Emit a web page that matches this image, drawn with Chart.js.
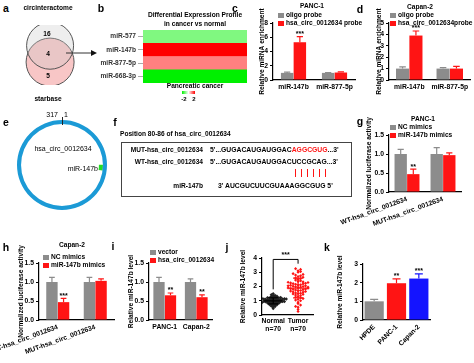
<!DOCTYPE html>
<html><head><meta charset="utf-8">
<script src="https://cdn.jsdelivr.net/npm/chart.js@4.4.1/dist/chart.umd.min.js"></script>
<style>
html,body{margin:0;padding:0;background:#fff;}
#fig{position:relative;width:474px;height:363px;overflow:hidden;font-family:'Liberation Sans',Arial,sans-serif;font-weight:bold;font-size:6.6px;color:#000;}
#fig canvas{position:absolute;}
.t{position:absolute;white-space:nowrap;line-height:1;color:#000;}
</style></head><body><div id="fig"></div>
<script>
// ---- data ----
const vennSets = ['circinteractome', 'starbase'];
const vennCounts = [16, 4, 5];            // only set 1, both, only set 2
const heatMirs = ['miR-577', 'miR-147b', 'miR-877-5p', 'miR-668-3p'];
const heatLogFC = [-1, 2, 1, -2];
const circLength = 317;
const siteStart = 80, siteEnd = 86;

const enrichMirs = ['miR-147b', 'miR-877-5p'];
const panc1Oligo = [1.0, 1.0], panc1OligoErr = [1.1, 1.05];
const panc1Circ = [5.3, 1.05], panc1CircErr = [6.1, 1.15];
const capanOligo = [1.0, 1.0], capanOligoErr = [1.15, 1.08];
const capanCirc = [3.9, 1.0], capanCircErr = [4.3, 1.2];

const lucGroups = ['WT-hsa_circ_0012634', 'MUT-hsa_circ_0012634'];
const panc1NC = [1.0, 1.0], panc1NCErr = [1.12, 1.17];
const panc1Mim = [0.47, 0.97], panc1MimErr = [0.6, 1.03];
const capanNC = [1.0, 1.0], capanNCErr = [1.12, 1.12];
const capanMim = [0.47, 1.03], capanMimErr = [0.57, 1.08];

const cellLines = ['PANC-1', 'Capan-2'];
const vectorLvl = [1.0, 1.0], vectorErr = [1.12, 1.08];
const circLvl = [0.65, 0.6], circErr = [0.71, 0.66];

const tissueGroups = ['Normal', 'Tumor'];
const normalLvl = [
  0.45, 0.55, 0.60, 0.65, 0.68, 0.70, 0.72, 0.74, 0.75, 0.77,
  0.78, 0.80, 0.81, 0.82, 0.84, 0.85, 0.86, 0.87, 0.88, 0.90,
  0.90, 0.91, 0.92, 0.93, 0.94, 0.95, 0.95, 0.96, 0.97, 0.98,
  0.99, 1.00, 1.00, 1.01, 1.02, 1.03, 1.04, 1.05, 1.05, 1.06,
  1.07, 1.08, 1.09, 1.10, 1.10, 1.11, 1.12, 1.13, 1.14, 1.15,
  1.16, 1.17, 1.18, 1.19, 1.20, 1.21, 1.22, 1.23, 1.25, 1.28,
  1.30, 1.32, 1.35, 1.38, 1.42, 0.62, 0.88, 1.00, 1.12, 1.50];
const tumorLvl = [
  0.25, 0.40, 0.55, 0.70, 0.80, 0.90, 1.00, 1.05, 1.10, 1.20,
  1.25, 1.30, 1.35, 1.40, 1.45, 1.50, 1.52, 1.55, 1.60, 1.62,
  1.65, 1.68, 1.70, 1.72, 1.75, 1.78, 1.80, 1.82, 1.85, 1.88,
  1.90, 1.92, 1.95, 1.98, 2.00, 2.02, 2.05, 2.08, 2.10, 2.12,
  2.15, 2.18, 2.20, 2.22, 2.25, 2.28, 2.30, 2.35, 2.40, 2.45,
  2.50, 2.55, 2.60, 2.65, 2.70, 2.75, 2.80, 2.85, 2.90, 3.00,
  3.05, 3.10, 3.20, 3.25, 1.15, 1.48, 1.95, 2.05, 2.32, 0.60];

const kLines = ['HPDE', 'PANC-1', 'Capan-2'];
const kLvl = [1.0, 1.97, 2.22], kErr = [1.1, 2.2, 2.47];

const mutSeq = ["5'...GUGACAUGAUGGAC", 'AGGCGUG', "...3'"];
const wtSeq = "5'...GUGACAUGAUGGACUCCGCAG...3'";
const mirSeq = "3' AUCGUCUUCGUAAAGGCGUG 5'";

// ---- setup ----
const GREY = '#8c8c8c', RED = '#ff1414', BLUE = '#1414ff';
const FONT = "'Liberation Sans', Arial, sans-serif";
Chart.defaults.font.family = FONT;
Chart.defaults.font.size = 6.8;
Chart.defaults.font.weight = 'bold';
Chart.defaults.color = '#000';
Chart.defaults.plugins.legend.display = false;
Chart.defaults.plugins.tooltip.enabled = false;

const fig = document.getElementById('fig');

function txt(x, y, s, o = {}) {
  const d = document.createElement('div');
  d.className = 't';
  if (o.html) d.innerHTML = s; else d.textContent = s;
  const a = o.a || 'c';
  d.style.left = x + 'px';
  d.style.top = y + 'px';
  d.style.transform = 'translate(' + (a === 'c' ? '-50%' : a === 'r' ? '-100%' : '0') + ',-50%)';
  if (o.size) d.style.fontSize = o.size + 'px';
  if (o.color) d.style.color = o.color;
  if (o.normal) d.style.fontWeight = 'normal';
  fig.appendChild(d);
  return d;
}
function rect(x, y, w, h, css) {
  const d = document.createElement('div');
  d.style.position = 'absolute';
  d.style.left = x + 'px'; d.style.top = y + 'px';
  d.style.width = w + 'px'; d.style.height = h + 'px';
  Object.assign(d.style, css);
  fig.appendChild(d);
  return d;
}
function letter(x, y, s) { txt(x, y, s, { size: 10.5 }); }
function legend(x, y, items) {
  items.forEach((it, i) => {
    rect(x, y + i * 8 - 2.5, 6, 5, { background: it[1] });
    txt(x + 8, y + i * 8, it[0], { a: 'l' });
  });
}
function canvasAt(left, top, w, h) {
  const c = document.createElement('canvas');
  c.width = w; c.height = h;
  Object.assign(c.style, { left: left + 'px', top: top + 'px', width: w + 'px', height: h + 'px' });
  fig.appendChild(c);
  return c;
}

// error bars + stars drawn through the y scale
const errPlugin = {
  id: 'errStars',
  afterDatasetsDraw(chart) {
    const ctx = chart.ctx, y = chart.scales.y;
    chart.data.datasets.forEach((ds, di) => {
      if (!ds.err) return;
      chart.getDatasetMeta(di).data.forEach((bar, i) => {
        const top = y.getPixelForValue(ds.err[i]);
        const col = Array.isArray(ds.backgroundColor) ? ds.backgroundColor[i] : ds.backgroundColor;
        const cw = Math.min(bar.width * 0.5, 8);
        ctx.save();
        ctx.strokeStyle = col; ctx.lineWidth = 1.2;
        ctx.beginPath();
        ctx.moveTo(bar.x, bar.y); ctx.lineTo(bar.x, top);
        ctx.moveTo(bar.x - cw / 2, top); ctx.lineTo(bar.x + cw / 2, top);
        ctx.stroke();
        if (ds.stars && ds.stars[i]) {
          ctx.fillStyle = '#000';
          ctx.font = 'bold 7px ' + FONT;
          ctx.textAlign = 'center'; ctx.textBaseline = 'bottom';
          ctx.fillText(ds.stars[i], bar.x, top + 1);
        }
        ctx.restore();
      });
    });
  }
};

// place a chart so that its plot area lands on box.l..box.r, box.t..box.b
function panel(box, cfg) {
  const pl = box.pl ?? 4, pt = box.pt ?? 20, pr = box.pr ?? 4, pb = box.pb ?? 4;
  const yW = Math.round(box.l - box.tx + 4);
  const left = box.l - pl - yW, top = box.t - pt;
  const c = canvasAt(left, top, box.r + pr - left, box.b + box.xH + pb - top);
  Object.assign(cfg.options, { responsive: false, animation: false, devicePixelRatio: 1,
    layout: { padding: { left: pl, top: pt, right: pr, bottom: pb } } });
  cfg.options.scales.x.afterFit = s => { s.height = box.xH; s.paddingLeft = 0; s.paddingRight = 0; };
  cfg.options.scales.y.afterFit = s => { s.width = yW; s.paddingTop = 0; s.paddingBottom = 0; };
  return new Chart(c, cfg);
}
function yScale(max, step, title, dec) {
  return { min: 0, max: max,
    ticks: { stepSize: step, padding: 2, callback: v => dec ? v.toFixed(1) : v },
    grid: { drawOnChartArea: false, tickLength: 3, color: '#000', lineWidth: 1 },
    border: { color: '#000', width: 1.2 },
    title: { display: true, text: title, padding: 0, font: { size: 6.6, weight: 'bold' } } };
}
function xCat(rot) {
  return { grid: { display: false, drawTicks: false }, border: { color: '#000', width: 1.2 },
    ticks: { padding: 3, autoSkip: false, minRotation: rot || 0, maxRotation: rot || 0 } };
}
function bars(label, data, err, color, stars, cp) {
  return { label, data, err, stars, backgroundColor: color, borderWidth: 0,
    barPercentage: 0.98, categoryPercentage: cp };
}
function barChart(box, labels, sets, y, rot) {
  return panel(box, { type: 'bar', data: { labels, datasets: sets },
    options: { scales: { x: xCat(rot), y } }, plugins: [errPlugin] });
}

// ---- a: venn ----
letter(6, 8, 'a');
new Chart(canvasAt(0, 0, 110, 110), {
  type: 'bubble',
  data: { datasets: [
    { data: [{ x: 46, y: 38, r: 23.5 }], backgroundColor: 'rgba(200,200,200,0.3)', borderColor: '#555', borderWidth: 1 },
    { data: [{ x: 46, y: 68, r: 24 }], backgroundColor: '#f8c6c6', borderColor: '#555', borderWidth: 1 }
  ] },
  options: { responsive: false, animation: false, devicePixelRatio: 1, layout: { padding: 0 },
    scales: { x: { display: false, min: 0, max: 110 }, y: { display: false, min: 0, max: 110, reverse: true } } }
});
txt(48, 8, vennSets[0]);
txt(48, 99, vennSets[1]);
txt(47, 34, String(vennCounts[0]));
txt(48, 54, String(vennCounts[1]));
txt(48, 76, String(vennCounts[2]));
fig.insertAdjacentHTML('beforeend',
  '<svg style="position:absolute;left:0;top:0" width="110" height="70"><line x1="66" y1="53" x2="92" y2="53" stroke="#333" stroke-width="1"/><polygon points="91,50 97,53 91,56" fill="#111"/></svg>');

// ---- b: heatmap ----
letter(101, 8, 'b');
function fcColor(v) {
  const t = Math.min(Math.abs(v) / 2, 1), k = Math.round(255 * (1 - t));
  return v < 0 ? 'rgb(' + k + ',' + Math.round(255 - 15 * t) + ',' + k + ')' : 'rgb(255,' + k + ',' + k + ')';
}
const heatText = {
  id: 'heatText',
  afterDraw(chart) {
    const { ctx, chartArea: a } = chart, cx = (a.left + a.right) / 2;
    ctx.save();
    ctx.fillStyle = '#000'; ctx.font = 'bold 6.6px ' + FONT;
    ctx.textAlign = 'center'; ctx.textBaseline = 'middle';
    ctx.fillText('Differential Expression Profile', cx, a.top - 15);
    ctx.fillText('in cancer vs normal', cx, a.top - 6);
    ctx.fillText('Pancreatic cancer', cx, a.bottom + 3);
    ctx.restore();
  }
};
new Chart(canvasAt(83, 5, 165, 95), {
  type: 'bar',
  data: { labels: heatMirs, datasets: [{ data: heatMirs.map(() => 1), backgroundColor: heatLogFC.map(fcColor),
    borderWidth: 0, barPercentage: 1, categoryPercentage: 1 }] },
  options: { indexAxis: 'y', responsive: false, animation: false, devicePixelRatio: 1,
    layout: { padding: { left: 0, top: 25, right: 1, bottom: 17 } },
    scales: {
      x: { display: false, min: 0, max: 1 },
      y: { grid: { offset: false, drawOnChartArea: false, tickLength: 5, color: '#aaa' }, border: { display: false },
        ticks: { padding: 2, color: '#333', font: { size: 6.6 } },
        afterFit: s => { s.width = 60; s.paddingTop = 0; s.paddingBottom = 0; } }
    } },
  plugins: [heatText]
});
rect(182, 91, 13, 3, { background: 'linear-gradient(to right,' + fcColor(-2) + ',#fff,' + fcColor(2) + ')' });
txt(184, 99, '-2', { size: 6 });
txt(194, 99, '2', { size: 6 });

// ---- c ----
letter(235, 8, 'c');
txt(312, 6, 'PANC-1');
legend(278, 15, [['oligo probe', GREY], ['hsa_circ_0012634 probe', RED]]);
barChart({ l: 273, r: 355, t: 23, b: 80, tx: 262, xH: 14 }, enrichMirs,
  [bars('oligo probe', panc1Oligo, panc1OligoErr, GREY, null, 0.62),
   bars('hsa_circ_0012634 probe', panc1Circ, panc1CircErr, RED, ['***', ''], 0.62)],
  yScale(8, 2, 'Relative miRNA enrichment'));

// ---- d ----
letter(360, 9, 'd');
txt(420, 7, 'Capan-2');
legend(390, 15, [['oligo probe', GREY], ['hsa_circ_0012634probe', RED]]);
barChart({ l: 389, r: 470, t: 23, b: 80, tx: 379, xH: 14, pr: 2 }, enrichMirs,
  [bars('oligo probe', capanOligo, capanOligoErr, GREY, null, 0.66),
   bars('hsa_circ_0012634probe', capanCirc, capanCircErr, RED, ['***', ''], 0.66)],
  yScale(5, 1, 'Relative miRNA enrichment'));

// ---- e: circle ----
letter(6, 122, 'e');
const siteArc = [siteStart - 1, siteEnd - siteStart + 1, circLength - siteEnd];
new Chart(canvasAt(17, 120, 90, 90), {
  type: 'doughnut',
  data: { datasets: [
    { data: [circLength], backgroundColor: ['#1b9ad6'], borderWidth: 0 },
    { data: siteArc, backgroundColor: ['rgba(0,0,0,0)', '#22dd22', 'rgba(0,0,0,0)'], borderWidth: 0 }
  ] },
  options: { responsive: false, animation: false, devicePixelRatio: 1, cutout: '82%',
    hoverOffset: 0, offset: 0, layout: { padding: 0 } }
});
txt(58, 114, String(circLength), { a: 'r', normal: true, size: 7 });
txt(64, 114, '1', { a: 'l', normal: true, size: 7 });
rect(61.5, 117, 1, 8, { background: '#222' });
txt(63, 148, 'hsa_circ_0012634', { normal: true, size: 7 });
txt(98, 168, 'miR-147b', { a: 'r', normal: true, size: 7 });

// ---- f: sequences ----
letter(115, 122, 'f');
txt(120, 134, 'Position ' + siteStart + '-' + siteEnd + ' of hsa_circ_0012634', { a: 'l' });
rect(121, 142, 229, 53, { border: '1px solid #444' });
txt(203, 150, 'MUT-hsa_circ_0012634', { a: 'r' });
txt(203, 162, 'WT-hsa_circ_0012634', { a: 'r' });
txt(203, 186, 'miR-147b', { a: 'r' });
txt(210, 150, mutSeq[0] + '<span style="color:' + RED + '">' + mutSeq[1] + '</span>' + mutSeq[2], { a: 'l', html: true, size: 6.8 });
txt(210, 162, wtSeq, { a: 'l', size: 6.8 });
txt(218, 186, mirSeq, { a: 'l', size: 6.8 });
(function () {
  const m = document.createElement('canvas').getContext('2d');
  m.font = 'bold 6.8px ' + FONT;
  const x0 = 210 + m.measureText(mutSeq[0]).width, w = m.measureText(mutSeq[1]).width;
  for (let i = 0; i < 6; i++) rect(x0 + 3 + i * (w - 6) / 5, 169, 1.3, 8, { background: RED });
})();

// ---- g ----
letter(360, 121, 'g');
txt(423, 119, 'PANC-1');
legend(390, 127, [['NC mimics', GREY], ['miR-147b mimics', RED]]);
barChart({ l: 389, r: 461, t: 135, b: 192, tx: 369, xH: 45, pl: 60, pr: 6 }, lucGroups,
  [bars('NC mimics', panc1NC, panc1NCErr, GREY, null, 0.7),
   bars('miR-147b mimics', panc1Mim, panc1MimErr, RED, ['**', ''], 0.7)],
  yScale(1.5, 0.5, 'Normalized luciferase activity', true), 20);

// ---- h ----
letter(6, 247, 'h');
txt(72, 245, 'Capan-2');
legend(43, 257, [['NC mimics', GREY], ['miR-147b mimics', RED]]);
barChart({ l: 39, r: 114, t: 263, b: 320, tx: 21, xH: 40, pl: 60, pr: 6 }, lucGroups,
  [bars('NC mimics', capanNC, capanNCErr, GREY, null, 0.62),
   bars('miR-147b mimics', capanMim, capanMimErr, RED, ['***', ''], 0.62)],
  yScale(1.5, 0.5, 'Normalized luciferase activity', true), 20);

// ---- i ----
letter(113, 246, 'i');
legend(150, 252, [['vector', GREY], ['hsa_circ_0012634', RED]]);
barChart({ l: 149, r: 212, t: 263, b: 320, tx: 131, xH: 14 }, cellLines,
  [bars('vector', vectorLvl, vectorErr, GREY, null, 0.73),
   bars('hsa_circ_0012634', circLvl, circErr, RED, ['**', '**'], 0.73)],
  yScale(1.5, 0.5, 'Relative miR-147b level', true));

// ---- j: scatter ----
letter(227, 247, 'j');
function swarm(vals, g, bin, step) {
  const counts = {};
  return vals.map(v => {
    const b = Math.round(v / bin), n = counts[b] = (counts[b] || 0) + 1;
    const k = n - 1, off = k === 0 ? 0 : (k % 2 ? 1 : -1) * Math.ceil(k / 2) * step;
    return { x: g + off, y: v };
  });
}
const tissueVals = [normalLvl, tumorLvl];
const mean = a => a.reduce((s, v) => s + v, 0) / a.length;
const sd = a => { const m = mean(a); return Math.sqrt(a.reduce((s, v) => s + (v - m) * (v - m), 0) / (a.length - 1)); };
const jPlugin = {
  id: 'jStats',
  afterDatasetsDraw(chart) {
    const { ctx, scales: { x, y } } = chart;
    ctx.save();
    ctx.lineWidth = 1.2;
    tissueVals.forEach((v, i) => {
      const xc = x.getPixelForValue(i + 1), m = mean(v), s = sd(v);
      ctx.strokeStyle = i ? RED : '#000';
      ctx.beginPath();
      ctx.moveTo(xc - 9, y.getPixelForValue(m)); ctx.lineTo(xc + 9, y.getPixelForValue(m));
      ctx.moveTo(xc, y.getPixelForValue(m - s)); ctx.lineTo(xc, y.getPixelForValue(m + s));
      ctx.moveTo(xc - 5, y.getPixelForValue(m - s)); ctx.lineTo(xc + 5, y.getPixelForValue(m - s));
      ctx.moveTo(xc - 5, y.getPixelForValue(m + s)); ctx.lineTo(xc + 5, y.getPixelForValue(m + s));
      ctx.stroke();
    });
    const x1 = x.getPixelForValue(1), x2 = x.getPixelForValue(2), yb = y.getPixelForValue(3.9);
    ctx.strokeStyle = '#000'; ctx.lineWidth = 1;
    ctx.beginPath();
    ctx.moveTo(x1, y.getPixelForValue(Math.max(...normalLvl) + 0.3)); ctx.lineTo(x1, yb);
    ctx.lineTo(x2, yb); ctx.lineTo(x2, y.getPixelForValue(Math.max(...tumorLvl) + 0.35));
    ctx.stroke();
    ctx.fillStyle = '#000'; ctx.font = 'bold 7px ' + FONT; ctx.textAlign = 'center'; ctx.textBaseline = 'bottom';
    ctx.fillText('***', (x1 + x2) / 2, yb - 1);
    ctx.restore();
  }
};
panel({ l: 262, r: 313, t: 258, b: 315, tx: 243, xH: 22 }, {
  type: 'scatter',
  data: { datasets: [
    { data: swarm(normalLvl, 1, 0.1, 0.075), pointStyle: 'rectRot', radius: 1.7, backgroundColor: '#222', borderWidth: 0 },
    { data: swarm(tumorLvl, 2, 0.2, 0.1), pointStyle: 'rectRot', radius: 1.6, backgroundColor: RED, borderWidth: 0 }
  ] },
  options: { scales: {
    x: { type: 'linear', min: 0.55, max: 2.6, grid: { display: false, drawTicks: false }, border: { color: '#000', width: 1.2 },
      afterBuildTicks: s => { s.ticks = tissueGroups.map((_, i) => ({ value: i + 1 })); },
      ticks: { padding: 2, callback: v => [tissueGroups[v - 1], 'n=' + tissueVals[v - 1].length] } },
    y: yScale(4, 1, 'Relative miR-147b level')
  } },
  plugins: [jPlugin]
});

// ---- k ----
letter(327, 247, 'k');
barChart({ l: 363, r: 430, t: 264, b: 320, tx: 340, xH: 40, pl: 30, pr: 8 }, kLines,
  [{ data: kLvl, err: kErr, stars: ['', '**', '***'], backgroundColor: [GREY, RED, BLUE], borderWidth: 0,
     barPercentage: 1, categoryPercentage: 0.86 }],
  yScale(3, 1, 'Relative miR-147b level'), 45);
</script></body></html>
